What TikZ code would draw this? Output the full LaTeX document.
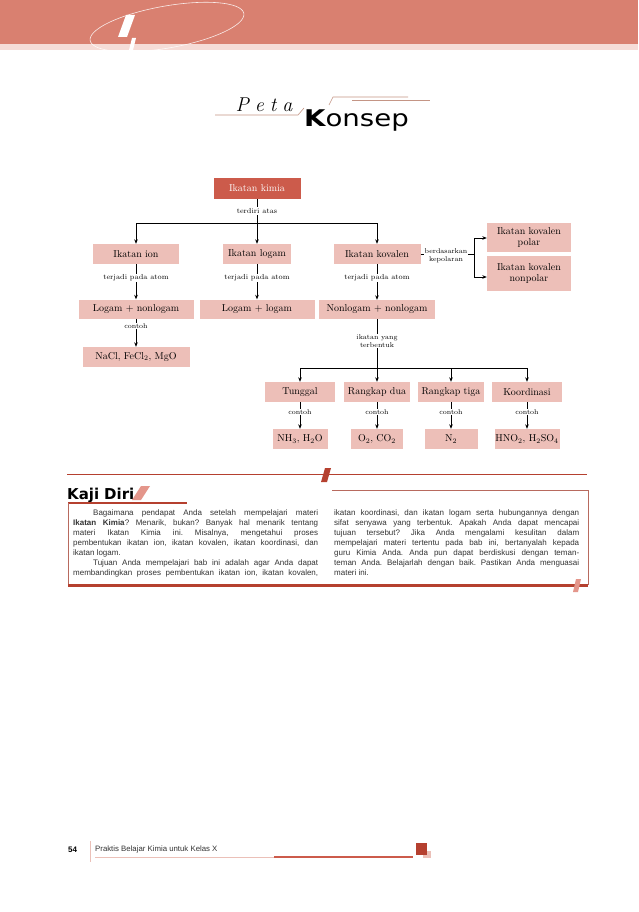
\documentclass[tikz,border=0pt]{standalone}
\usepackage{fontspec}
\usepackage{graphicx}
\newfontfamily\lsans{Liberation Sans}
\newfontfamily\dsans{DejaVu Sans}
\usetikzlibrary{arrows.meta}
\definecolor{hdr}{HTML}{D98070}
\definecolor{hdrlight}{HTML}{F6DCD7}
\definecolor{kimia}{HTML}{CC5B4B}
\definecolor{pinkbox}{HTML}{EDBFB8}
\definecolor{darkred}{HTML}{B5402F}
\definecolor{thinred}{HTML}{B86A5E}
\definecolor{titleline}{HTML}{C49585}
\definecolor{wedge}{HTML}{E4968B}
\definecolor{bodytext}{HTML}{333333}
\definecolor{footpink}{HTML}{EBC0B8}
\newcommand\jline[1]{\makebox[245pt][s]{#1}\par}
\newcommand\lline[1]{\makebox[245pt][l]{#1}\par}
\frenchspacing
\begin{document}
\begin{tikzpicture}[x=1pt,y=-1pt,
  cbox/.style={fill=pinkbox, inner sep=0pt, font=\fontsize{10}{11.5}\selectfont, align=center, minimum height=20pt},
  mainbox/.style={fill=kimia, text=white, inner sep=0pt, font=\fontsize{10}{11.5}\selectfont, minimum height=21pt},
  lbl/.style={fill=white, inner sep=1pt, font=\fontsize{7.3}{8.3}\selectfont, align=center},
  slbl/.style={fill=white, inner sep=1pt, font=\fontsize{7}{8}\selectfont, align=center},
  conn/.style={line width=0.8pt, black},
  arr/.style={conn, -{Stealth[length=4.5pt,width=3.6pt]}},
]
\useasboundingbox (0,0) rectangle (638,912);
\fill[white] (0,0) rectangle (638,912);

% header
\fill[hdr] (0,0) rectangle (638,44);
\fill[hdrlight] (0,44) rectangle (638,50);
\begin{scope}
\clip (0,0) rectangle (638,50);
\draw[white, line width=0.6pt, opacity=0.85] plot[variable=\t, domain=0:360, samples=90, smooth]
  ({167+78*cos(\t)*cos(-10)-21*sin(\t)*sin(-10)}, {27+78*cos(\t)*sin(-10)+21*sin(\t)*cos(-10)});
\end{scope}
\fill[white] (126,15) -- (135,15) -- (127,37) -- (118,37) -- cycle;
\fill[white] (132,38) -- (136,38) -- (133,50) -- (129,50) -- cycle;

% title
\node[anchor=base, inner sep=0, font=\itshape\fontsize{20}{20}\selectfont] (peta) at (264,112) {P\hspace{6pt}e\hspace{6pt}t\hspace{6pt}a};
\node[anchor=base west, inner sep=0] (konsep) at (304,127) {\scalebox{1.2}[1]{\dsans\fontsize{23}{23}\selectfont\bfseries K\mdseries onsep}};
\draw[titleline, line width=0.6pt] (215,115) -- (298,115) -- (304,108);
\draw[titleline, line width=0.6pt] (329,105) -- (333,97) -- (408,97);
\draw[titleline, line width=0.6pt] (352,100) -- (430,100);

% concept map nodes
\node[mainbox, minimum width=87pt] (kimia) at (257,188.5) {Ikatan kimia};
\node[cbox, minimum width=86pt] (ion) at (136,254) {Ikatan ion};
\node[cbox, minimum width=68pt] (logam) at (257,254) {Ikatan logam};
\node[cbox, minimum width=87pt] (kovalen) at (377,254) {Ikatan kovalen};
\node[cbox, minimum width=84pt, minimum height=29pt] (polar) at (529,237.5) {Ikatan kovalen\\polar};
\node[cbox, minimum width=84pt, minimum height=35pt] (nonpolar) at (529,273.5) {Ikatan kovalen\\nonpolar};
\node[cbox, minimum width=115pt, minimum height=19pt] (ln) at (136,309) {Logam + nonlogam};
\node[cbox, minimum width=115pt, minimum height=19pt] (ll) at (257,309) {Logam + logam};
\node[cbox, minimum width=116pt, minimum height=19pt] (nn) at (377,309.5) {Nonlogam + nonlogam};
\node[cbox, minimum width=107pt] (nacl) at (136,357) {NaCl, FeCl$_2$, MgO};
\node[cbox, minimum width=70pt] (tunggal) at (300,392) {Tunggal};
\node[cbox, minimum width=66pt] (dua) at (377,392) {Rangkap dua};
\node[cbox, minimum width=66pt] (tiga) at (451,392) {Rangkap tiga};
\node[cbox, minimum width=70pt] (koord) at (527,392) {Koordinasi};
\node[cbox, minimum width=55pt] (nh) at (300,439) {NH$_3$, H$_2$O};
\node[cbox, minimum width=52pt] (oc) at (377,439) {O$_2$, CO$_2$};
\node[cbox, minimum width=53pt] (nt) at (451,439) {N$_2$};
\node[cbox, minimum width=65pt] (hno) at (527,439) {HNO$_2$, H$_2$SO$_4$};

% connectors
\coordinate (j1) at (257,223);
\coordinate (hl) at (136,223);
\coordinate (hr) at (377,223);
\draw[conn] (kimia.south) -- (j1);
\draw[conn] (hl) -- (hr);
\draw[arr] (hl) -- (ion.north);
\draw[arr] (j1) -- (logam.north);
\draw[arr] (hr) -- (kovalen.north);
\draw[arr] (ion.south) -- (ln.north);
\draw[arr] (logam.south) -- (ll.north);
\draw[arr] (kovalen.south) -- (nn.north);
\draw[arr] (ln.south) -- (nacl.north);

\coordinate (bm) at (474,254);
\coordinate (b1) at (474,238);
\coordinate (b2) at (474,277);
\draw[conn] (kovalen.east) -- (bm);
\draw[conn] (b1) -- (b2);
\draw[arr] (b1) -- (polar.west |- b1);
\draw[arr] (b2) -- (nonpolar.west |- b2);

\coordinate (j2) at (377,368);
\coordinate (rl) at (300,368);
\coordinate (rm) at (451,368);
\coordinate (rr) at (527,368);
\draw[conn] (nn.south) -- (j2);
\draw[conn] (rl) -- (rr);
\draw[arr] (rl) -- (tunggal.north);
\draw[arr] (j2) -- (dua.north);
\draw[arr] (rm) -- (tiga.north);
\draw[arr] (rr) -- (koord.north);
\draw[arr] (tunggal.south) -- (nh.north);
\draw[arr] (dua.south) -- (oc.north);
\draw[arr] (tiga.south) -- (nt.north);
\draw[arr] (koord.south) -- (hno.north);

% connector labels
\node[lbl] (l1) at (257,211) {terdiri atas};
\node[lbl] (l2) at (136,278) {terjadi pada atom};
\node[lbl] (l3) at (257,278) {terjadi pada atom};
\node[lbl] (l4) at (377,278) {terjadi pada atom};
\node[slbl] (l5) at (446,256) {berdasarkan\\kepolaran};
\node[slbl] (l6) at (136,326) {contoh};
\node[slbl] (l7) at (377,341) {ikatan yang\\terbentuk};
\node[slbl] (l8) at (300,412) {contoh};
\node[slbl] (l9) at (377,412) {contoh};
\node[slbl] (l10) at (451,412) {contoh};
\node[slbl] (l11) at (527,412) {contoh};

% separator
\draw[darkred, line width=0.8pt] (67,474) -- (587,474);
\fill[darkred] (325,468) -- (331,468) -- (327,482) -- (321,482) -- cycle;

% Kaji Diri
\node[anchor=base west, inner sep=0, font=\dsans\bfseries\fontsize{15}{15}\selectfont] (kd) at (67,499) {Kaji\hspace{5pt}Diri};
\fill[wedge] (141,486) -- (150,486) -- (141,500) -- (132,500) -- cycle;
\draw[darkred, line width=2.5pt] (68,503) -- (187,503);
\draw[thinred, line width=0.6pt] (68,503) -- (68,585);
\draw[thinred, line width=0.6pt] (332,490) -- (588,490) -- (588,585);
\draw[darkred, line width=3pt] (68,585.5) -- (588,585.5);
\fill[wedge] (576,579) -- (581,579) -- (578,592) -- (573,592) -- cycle;

\node[anchor=base west, inner sep=0, text=bodytext] (colA) at (73,515) {\parbox[t]{245pt}{\lsans\fontsize{8}{10}\selectfont\parindent=0pt
\jline{\hspace*{20pt}Bagaimana pendapat Anda setelah mempelajari materi}
\jline{\textbf{Ikatan Kimia}? Menarik, bukan? Banyak hal menarik tentang}
\jline{materi Ikatan Kimia ini. Misalnya, mengetahui proses}
\jline{pembentukan ikatan ion, ikatan kovalen, ikatan koordinasi, dan}
\lline{ikatan logam.}
\jline{\hspace*{20pt}Tujuan Anda mempelajari bab ini adalah agar Anda dapat}
\jline{membandingkan proses pembentukan ikatan ion, ikatan kovalen,}}};
\node[anchor=base west, inner sep=0, text=bodytext] (colB) at (334,515) {\parbox[t]{245pt}{\lsans\fontsize{8}{10}\selectfont\parindent=0pt
\jline{ikatan koordinasi, dan ikatan logam serta hubungannya dengan}
\jline{sifat senyawa yang terbentuk. Apakah Anda dapat mencapai}
\jline{tujuan tersebut? Jika Anda mengalami kesulitan dalam}
\jline{mempelajari materi tertentu pada bab ini, bertanyalah kepada}
\jline{guru Kimia Anda. Anda pun dapat berdiskusi dengan teman-}
\jline{teman Anda. Belajarlah dengan baik. Pastikan Anda menguasai}
\lline{materi ini.}}};

% footer
\node[anchor=base west, inner sep=0, font=\lsans\bfseries\fontsize{8}{8}\selectfont] (pg) at (68,852) {54};
\draw[footpink, line width=0.8pt] (90,841) -- (90,862);
\node[anchor=base west, inner sep=0, font=\lsans\fontsize{7.8}{8}\selectfont, text=bodytext] (ft) at (95,851) {Praktis Belajar Kimia untuk Kelas X};
\draw[footpink, line width=0.8pt] (95,857) -- (274,857);
\draw[kimia, line width=1.5pt] (274,857) -- (413,857);
\fill[footpink] (423,851) rectangle (431,858);
\fill[darkred] (416,843) rectangle (427,855);
\end{tikzpicture}
\end{document}
